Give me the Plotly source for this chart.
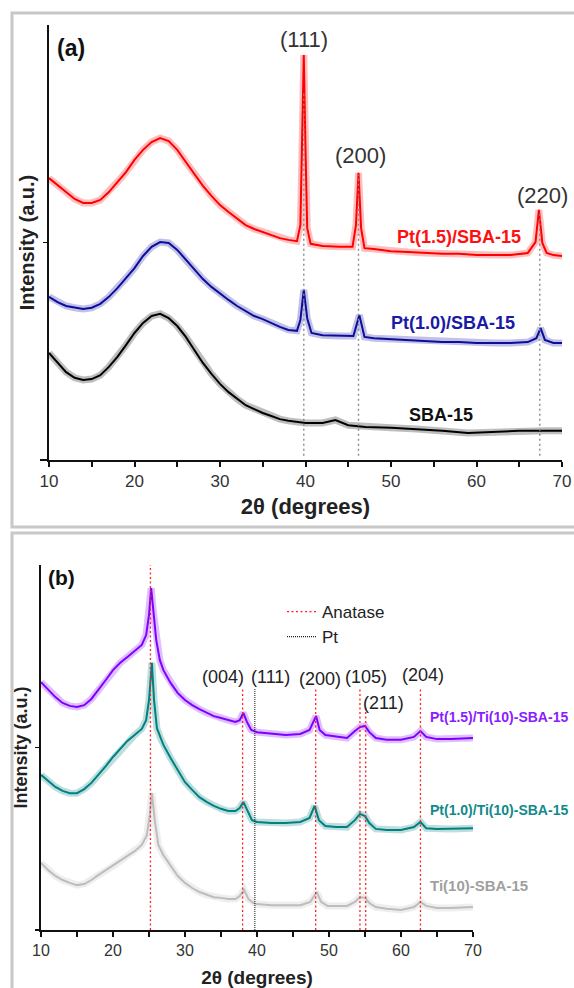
import plotly.graph_objects as go

# ---------------- Panel (a) data ----------------
a_red_x = [10, 11, 12, 13, 14, 15, 16, 17, 18, 19, 20, 21, 22, 23, 24, 25, 26, 27, 28, 29,
           30, 31, 32, 33, 34, 35, 36, 37, 38, 39, 39.4, 39.6, 39.8, 40.0, 40.2, 40.6, 42, 44,
           45.5, 45.9, 46.2, 46.5, 46.9, 48, 50, 52, 54, 56, 58, 60, 62, 64, 66, 66.9, 67.3,
           67.7, 68.2, 69, 70]
a_red_y = [64.8, 63.2, 61.4, 60.0, 59.1, 59.1, 59.8, 61.6, 63.9, 66.2, 69.0, 71.3, 73.1, 74.0,
           73.3, 71.3, 68.5, 65.7, 63.0, 60.7, 58.6, 57.0, 55.4, 54.0, 53.1, 52.4, 51.7, 51.0,
           50.6, 50.3, 54.0, 71.3, 93.1, 71.3, 53.3, 49.7, 49.2, 49.0, 49.0, 54.0, 66.0, 53.3,
           48.7, 48.5, 48.0, 47.8, 47.6, 47.4, 47.4, 47.1, 47.1, 47.1, 47.6, 50.1, 57.5, 49.9,
           47.6, 47.1, 46.9]

a_blue_x = [10, 11, 12, 13, 14, 15, 16, 17, 18, 19, 20, 21, 22, 23, 24, 25, 26, 27, 28, 29,
            30, 31, 32, 33, 34, 35, 36, 37, 38, 39, 39.4, 39.8, 40.2, 40.7, 42, 44, 45.6, 46.3,
            46.9, 48, 50, 52, 54, 56, 58, 60, 62, 64, 66, 67.0, 67.5, 68.0, 69, 70]
a_blue_y = [37.5, 36.3, 35.4, 35.0, 34.7, 35.0, 35.9, 37.5, 39.5, 41.8, 44.1, 46.9, 49.0, 50.1,
            49.9, 48.3, 46.0, 43.7, 41.6, 39.8, 38.2, 36.8, 35.4, 34.3, 33.1, 32.4, 31.5, 30.6,
            29.9, 29.7, 32.2, 39.1, 32.6, 29.2, 28.7, 28.5, 28.5, 33.3, 28.3, 28.0, 27.8, 27.6,
            27.4, 27.1, 27.1, 26.9, 26.9, 26.9, 27.1, 28.0, 30.3, 27.6, 26.9, 26.9]

a_black_x = [10, 11, 12, 13, 14, 15, 16, 17, 18, 19, 20, 21, 22, 23, 24, 25, 26, 27, 28, 29,
             30, 31, 32, 33, 34, 35, 36, 37, 38, 39, 40, 42, 43.5, 45, 47, 50, 53, 56, 59, 62,
             65, 68, 70]
a_black_y = [24.6, 22.3, 20.2, 18.9, 18.4, 18.6, 19.5, 21.4, 23.7, 26.4, 29.2, 31.5, 33.1, 33.6,
             32.6, 30.8, 28.3, 25.3, 22.3, 19.8, 17.5, 15.6, 14.0, 12.6, 11.7, 10.8, 10.1, 9.4,
             9.0, 8.7, 8.5, 8.5, 9.2, 8.0, 7.6, 7.4, 7.1, 6.7, 6.2, 6.4, 6.7, 6.7, 6.7]

a_peak_pos = [39.8, 46.2, 67.4]
a_peak_top = [84.4, 65.5, 57.0]
a_peak_labels = ["(111)", "(200)", "(220)"]
a_peak_label_x = [39.8, 46.4, 67.7]
a_peak_label_y = [96.6, 70.1, 60.9]

# ---------------- Panel (b) data ----------------
b_purple_x = [10, 11, 12, 13, 14, 15, 16, 17, 18, 19, 20, 21, 22, 23, 24, 24.6, 25.0, 25.3,
              25.6, 26.0, 26.5, 27, 28, 29, 30, 31, 32, 33, 34, 35, 36, 37, 37.6, 38.1, 38.6,
              39.2, 40, 42, 44, 46, 47.3, 48.2, 48.7, 49.5, 51, 52.5, 53.6, 54.3, 55.0, 55.6,
              56.5, 58, 60, 61.8, 62.7, 63.5, 65, 67, 70]
b_purple_y = [67.9, 65.8, 63.8, 62.2, 61.4, 61.1, 61.6, 63.3, 65.8, 68.5, 71.2, 73.2, 74.8,
              76.4, 78.1, 80.8, 86.3, 93.7, 87.1, 79.5, 74.0, 71.2, 67.7, 64.9, 63.0, 61.6,
              60.5, 59.5, 58.6, 58.1, 57.5, 57.0, 57.5, 59.5, 57.0, 54.8, 54.2, 53.7, 53.4,
              53.7, 54.8, 58.6, 54.8, 53.4, 52.9, 52.6, 54.5, 55.6, 55.9, 54.2, 52.6, 52.1,
              52.1, 52.9, 54.5, 52.9, 52.3, 52.3, 52.6]

b_teal_x = [10, 11, 12, 13, 14, 15, 16, 17, 18, 19, 20, 21, 22, 23, 24, 24.6, 25.0, 25.4,
            25.7, 26.1, 26.7, 27, 28, 29, 30, 31, 32, 33, 34, 35, 36, 37, 37.6, 38.1, 38.6,
            39.3, 40, 42, 44, 46, 47.3, 48.0, 48.6, 49.5, 51, 52.5, 53.6, 54.3, 55.0, 55.6,
            56.5, 58, 60, 61.8, 62.7, 63.5, 65, 67, 70]
b_teal_y = [42.5, 40.8, 39.2, 38.1, 37.5, 37.5, 38.6, 40.3, 42.5, 44.9, 47.4, 49.6, 51.8,
            53.4, 55.1, 57.5, 63.0, 73.2, 63.0, 55.3, 52.1, 50.7, 47.1, 43.8, 40.5, 38.4,
            36.4, 35.1, 34.0, 33.2, 32.6, 32.6, 33.4, 35.1, 32.9, 30.1, 29.6, 29.3, 29.3,
            29.6, 30.7, 34.0, 30.1, 28.5, 28.2, 28.2, 30.1, 31.8, 31.2, 29.3, 27.7, 27.4,
            27.4, 28.2, 29.6, 27.9, 27.7, 27.7, 27.9]

b_gray_x = [10, 11, 12, 13, 14, 15, 16, 17, 18, 19, 20, 21, 22, 23, 24, 24.7, 25.1, 25.4,
            25.8, 26.3, 27, 28, 29, 30, 31, 32, 33, 34, 35, 36, 37, 37.6, 38.2, 38.8, 39.5,
            40, 42, 44, 46, 47.4, 48.3, 48.9, 49.8, 51, 52.5, 53.6, 54.3, 55.0, 55.6, 56.5,
            58, 60, 61.8, 62.7, 63.5, 65, 67, 70]
b_gray_y = [18.4, 16.4, 14.8, 13.7, 12.9, 12.3, 12.6, 13.7, 15.1, 16.4, 17.5, 18.9, 20.3,
            21.6, 23.3, 26.0, 31.5, 37.5, 30.1, 23.3, 20.5, 17.5, 14.8, 12.9, 11.5, 10.4,
            9.6, 9.0, 8.8, 8.5, 8.5, 9.3, 11.0, 8.5, 7.4, 7.1, 6.8, 6.8, 6.8, 7.7, 10.4, 7.7,
            6.6, 6.6, 6.6, 7.7, 9.0, 8.8, 7.4, 6.3, 5.8, 5.5, 6.3, 7.7, 6.6, 6.0, 6.0, 6.3]

b_anatase_pos = [25.2, 38.0, 48.15, 54.3, 55.1, 62.7]
b_anatase_top = [100.5, 66.3, 66.3, 66.3, 61.6, 66.3]
b_pt_pos = [39.7]
b_pt_top = [66.3]
b_peak_labels = ["(101)", "(004)", "(111)", "(200)", "(105)", "(211)", "(204)"]
b_peak_label_x = [25.7, 35.3, 41.9, 48.75, 55.1, 57.5, 63.05]
b_peak_label_y = [103.6, 69.3, 69.3, 68.8, 69.3, 62.2, 69.9]

FONT = "Liberation Sans, Arial, sans-serif"
W, H = 574, 988


def px_x(p):
    return p / W


def px_y(p):
    return (H - p) / H


fig = go.Figure()


def add_curve(x, y, color, xa, ya):
    fig.add_trace(go.Scatter(x=x, y=y, mode="lines", xaxis=xa, yaxis=ya,
                             line=dict(color=color, width=7), opacity=0.25,
                             showlegend=False, hoverinfo="skip"))
    fig.add_trace(go.Scatter(x=x, y=y, mode="lines", xaxis=xa, yaxis=ya,
                             line=dict(color=color, width=2),
                             showlegend=False))


# Panel (a)
add_curve(a_red_x, a_red_y, "#ff0000", "x", "y")
add_curve(a_blue_x, a_blue_y, "#0c0c9e", "x", "y")
add_curve(a_black_x, a_black_y, "#000000", "x", "y")

vx, vy = [], []
for p, t in zip(a_peak_pos, a_peak_top):
    vx += [p, p, None]
    vy += [1.0, t, None]
fig.add_trace(go.Scatter(x=vx, y=vy, mode="lines", xaxis="x", yaxis="y",
                         line=dict(color="#8a8a8a", width=1.4, dash="2px,3px"),
                         showlegend=False, hoverinfo="skip"))

# Panel (b)
add_curve(b_purple_x, b_purple_y, "#7f00ff", "x2", "y2")
add_curve(b_teal_x, b_teal_y, "#008080", "x2", "y2")
add_curve(b_gray_x, b_gray_y, "#bdbdbd", "x2", "y2")

ax, ay = [], []
for p, t in zip(b_anatase_pos, b_anatase_top):
    ax += [p, p, None]
    ay += [0, t, None]
fig.add_trace(go.Scatter(x=ax, y=ay, mode="lines", xaxis="x2", yaxis="y2", name="Anatase",
                         line=dict(color="#ff2020", width=1.3, dash="2px,2.5px"),
                         showlegend=True, cliponaxis=False, hoverinfo="skip"))
px_, py_ = [], []
for p, t in zip(b_pt_pos, b_pt_top):
    px_ += [p, p, None]
    py_ += [0, t, None]
fig.add_trace(go.Scatter(x=px_, y=py_, mode="lines", xaxis="x2", yaxis="y2", name="Pt",
                         line=dict(color="#222222", width=1.1, dash="1px,1px"),
                         showlegend=True, hoverinfo="skip"))

annotations = []


def ann(text, x, y, xr, yr, size, color="#222222", bold=False, xanchor="center"):
    t = f"<b>{text}</b>" if bold else text
    annotations.append(dict(text=t, x=x, y=y, xref=xr, yref=yr, showarrow=False,
                            xanchor=xanchor, yanchor="middle",
                            font=dict(family=FONT, size=size, color=color)))


ann("(a)", 10.7, 94.7, "x", "y", 23, "#111111", True, "left")
for lab, lx, ly in zip(a_peak_labels, a_peak_label_x, a_peak_label_y):
    ann(lab, lx, ly, "x", "y", 22, "#333333")
ann("Pt(1.5)/SBA-15", 58.0, 51.3, "x", "y", 18, "#ff1010", True)
ann("Pt(1.0)/SBA-15", 57.3, 31.5, "x", "y", 18, "#1a1aa6", True)
ann("SBA-15", 55.8, 10.3, "x", "y", 18, "#111111", True)

ann("(b)", 10.7, 96.7, "x2", "y2", 21, "#111111", True, "left")
for lab, lx, ly in zip(b_peak_labels, b_peak_label_x, b_peak_label_y):
    ann(lab, lx, ly, "x2", "y2", 18, "#222222")
ann("Pt(1.5)/Ti(10)-SBA-15", 63.75, 58.4, "x2", "y2", 14, "#8a1cff", True, "left")
ann("Pt(1.0)/Ti(10)-SBA-15", 63.75, 32.9, "x2", "y2", 14, "#108a8a", True, "left")
ann("Ti(10)-SBA-15", 63.75, 12.3, "x2", "y2", 15, "#a0a0a0", True, "left")

shapes = [
    # panel frames
    dict(type="rect", xref="paper", yref="paper", x0=px_x(12), x1=1.05,
         y0=px_y(527), y1=px_y(13), line=dict(color="#c8c8c8", width=3), layer="below"),
    dict(type="rect", xref="paper", yref="paper", x0=px_x(12), x1=1.05,
         y0=-0.05, y1=px_y(533), line=dict(color="#c8c8c8", width=3), layer="below"),
    # small axis extensions to the left of the y axes
    dict(type="line", xref="paper", yref="paper", x0=px_x(40), x1=px_x(49),
         y0=px_y(460), y1=px_y(460), line=dict(color="#111111", width=2)),
    dict(type="line", xref="paper", yref="paper", x0=px_x(35), x1=px_x(41),
         y0=px_y(930), y1=px_y(930), line=dict(color="#111111", width=2)),
]

xcommon = dict(range=[10, 70], dtick=10, tick0=10, showline=True, linecolor="#111111",
               linewidth=2, ticks="outside", ticklen=5, tickwidth=1.5, tickcolor="#111111",
               showgrid=False, zeroline=False, automargin=False, ticklabeloverflow="allow",
               minor=dict(dtick=5, ticks="outside", ticklen=5, tickwidth=1.5,
                          tickcolor="#111111", showgrid=False))
ycommon = dict(range=[0, 100], showline=True, linecolor="#111111", linewidth=1.8,
               ticks="outside", ticklen=4, tickwidth=1.2, tickcolor="#111111",
               tickvals=[50], showticklabels=False, showgrid=False, zeroline=False,
               automargin=False)

fig.update_layout(
    width=W, height=H, template="none",
    paper_bgcolor="white", plot_bgcolor="white",
    margin=dict(l=0, r=0, t=0, b=0),
    font=dict(family=FONT, color="#222222"),
    xaxis=dict(**xcommon, domain=[px_x(49), px_x(562)], anchor="y",
               tickfont=dict(size=17, color="#333333"),
               title=dict(text="<b>2θ (degrees)</b>", font=dict(size=22, color="#222222"),
                          standoff=8)),
    yaxis=dict(**ycommon, domain=[px_y(460), px_y(25)], anchor="x",
               title=dict(text="<b>Intensity (a.u.)</b>", font=dict(size=20, color="#222222"),
                          standoff=3)),
    xaxis2=dict(**xcommon, domain=[px_x(41), px_x(473)], anchor="y2",
                tickfont=dict(size=16, color="#333333"),
                title=dict(text="<b>2θ (degrees)</b>", font=dict(size=19, color="#222222"),
                           standoff=18)),
    yaxis2=dict(**ycommon, domain=[px_y(930), px_y(565)], anchor="x2",
                title=dict(text="<b>Intensity (a.u.)</b>", font=dict(size=18, color="#222222"),
                           standoff=3)),
    legend=dict(x=px_x(282), y=px_y(594), xanchor="left", yanchor="top",
                bgcolor="rgba(0,0,0,0)", borderwidth=0,
                font=dict(family=FONT, size=17, color="#222222"),
                tracegroupgap=0),
    annotations=annotations,
    shapes=shapes,
)

fig.write_html("out.html",
               config={"displayModeBar": False},
               post_script="document.body.style.margin='0px';"
                           "document.body.style.overflow='hidden';")
